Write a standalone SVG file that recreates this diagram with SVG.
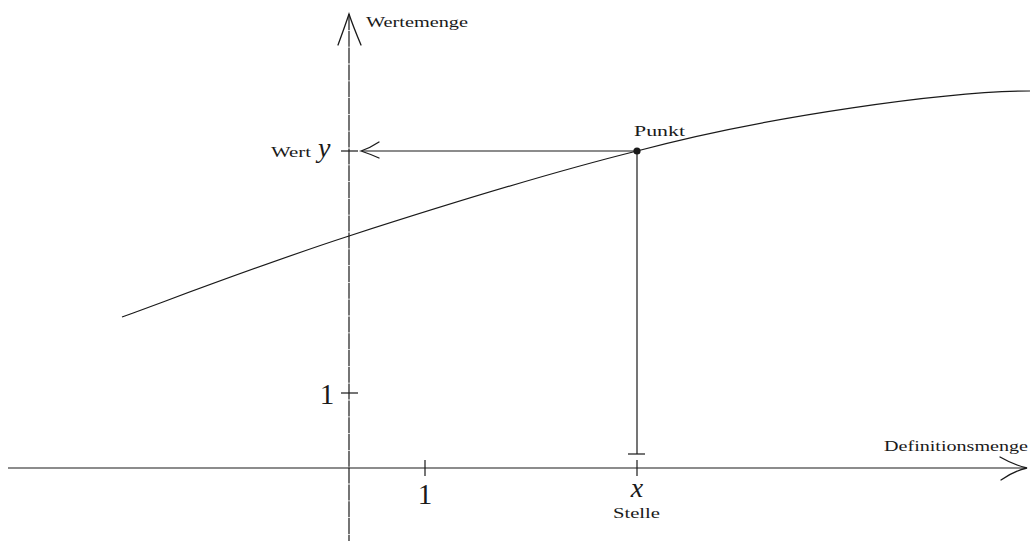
<svg xmlns="http://www.w3.org/2000/svg" width="1030" height="543" viewBox="0 0 1030 543">
<style>
.ln{fill:none;stroke:#1a1a1a;stroke-width:1.2}
.ax{fill:none;stroke:#1a1a1a;stroke-width:1.2}
.ah{fill:none;stroke:#1a1a1a;stroke-width:1.3;stroke-linecap:round}
.t{font-family:"Liberation Serif","DejaVu Serif",serif;fill:#1a1a1a}
.s{font-size:14px}
.m{font-size:28px;font-style:italic}
.n{font-size:29px}
</style>
<rect width="1030" height="543" fill="#ffffff"/>
<g id="axes">
<line class="ax" x1="349" y1="14" x2="349" y2="541" stroke-dasharray="16 0.8"/>
<path class="ah" d="M338,45 Q345,26 349,14 Q353,26 361,45"/>
<line class="ax" x1="8" y1="468" x2="1026" y2="468"/>
<path class="ah" d="M1000,457 Q1014,465 1027,468 Q1014,471 1001,480"/>
</g>
<g id="ticks">
<line class="ln" x1="341" y1="393" x2="358" y2="393"/>
<line class="ln" x1="341" y1="151" x2="358" y2="151"/>
<line class="ln" x1="425" y1="460" x2="425" y2="476"/>
<line class="ln" x1="637" y1="460" x2="637" y2="476"/>
</g>
<g id="curve">
<path class="ln" stroke-width="1.3" d="M122,317 C159.8,303.5 263.2,263.7 349,236 C434.8,208.3 547.3,173.3 637,151 C767,116 950,91 1030,91"/>
</g>
<g id="connectors">
<line class="ln" x1="637" y1="151" x2="637" y2="454"/>
<line class="ln" x1="628" y1="454" x2="645" y2="454"/>
<line class="ln" x1="637" y1="151" x2="362" y2="151"/>
<path class="ah" d="M379,142 Q370,148 361,151 Q370,154 379,158"/>
</g>
<g id="punkt">
<circle cx="637" cy="151" r="3.6" fill="#1a1a1a"/>
<text class="t s" x="634" y="136" textLength="51" lengthAdjust="spacingAndGlyphs">Punkt</text>
</g>
<g id="labels">
<text class="t s" x="366" y="27" textLength="102" lengthAdjust="spacingAndGlyphs">Wertemenge</text>
<text class="t s" x="884" y="451" textLength="144" lengthAdjust="spacingAndGlyphs">Definitionsmenge</text>
<text class="t s" x="271" y="157" textLength="40" lengthAdjust="spacingAndGlyphs">Wert</text>
<text class="t m" x="318" y="157">y</text>
<text class="t n" x="327" y="404" text-anchor="middle">1</text>
<text class="t n" x="425" y="504" text-anchor="middle">1</text>
<text class="t m" x="637" y="497" text-anchor="middle">x</text>
<text class="t s" x="613" y="518" textLength="47" lengthAdjust="spacingAndGlyphs">Stelle</text>
</g>
</svg>
